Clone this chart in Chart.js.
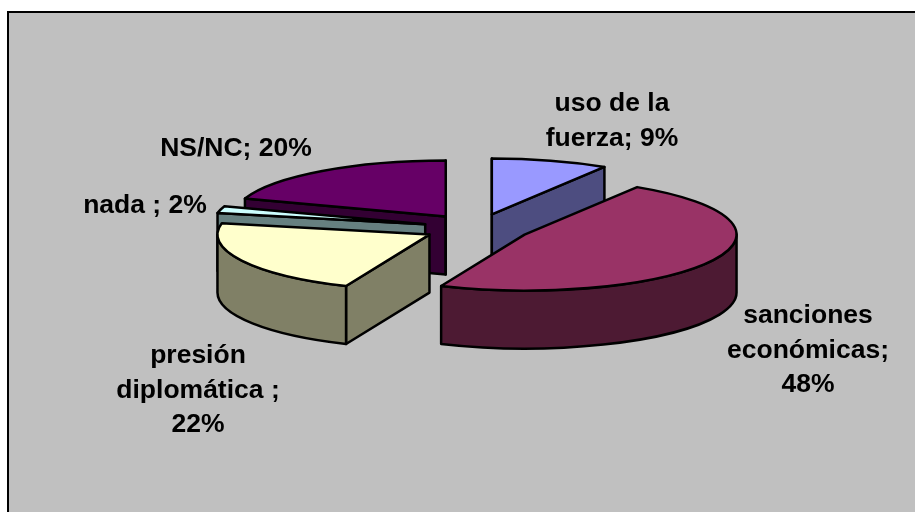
<!DOCTYPE html>
<html>
<head>
<meta charset="utf-8">
<script src="https://cdn.jsdelivr.net/npm/chart.js@4"></script>
<style>
body { margin: 0; background: #fff; }
canvas { display: block; }
</style>
</head>
<body>
<canvas id="pieChart" width="915" height="512"></canvas>
<script>
// Chart values
const categories = ['uso de la\nfuerza', 'sanciones\neconómicas', 'presión\ndiplomática ', 'nada ', 'NS/NC'];
const percents = [9, 48, 22, 2, 20];
const valueBreaks = [' ', '\n', '\n', ' ', ' '];

const topColors = ['#9999ff', '#993366', '#ffffcc', '#ccffff', '#660066'];
const wallColors = ['#4d4d80', '#4d1a33', '#808066', '#668080', '#330033'];

// Where each label is centred (x, baseline of first line)
const labelX = [612, 808, 198, 145, 236];
const labelY = [111, 323, 363, 213, 156];
const lineHeight = 34.6;

// Size of the flattened pie on screen
const pieWidth = 212;
const pieHeight = 56;
const wallDepth = 58;

function drawSlice(ctx, el, color, wall) {
    const R = el.outerRadius;
    const sx = pieWidth / R;
    const sy = pieHeight / R;
    const mid = (el.startAngle + el.endAngle) / 2;
    const ax = el.x + Math.cos(mid) * el.options.offset * sx;
    const ay = el.y + Math.sin(mid) * el.options.offset * sy;
    const px = t => ax + Math.cos(t) * pieWidth;
    const py = t => ay + Math.sin(t) * pieHeight;

    ctx.strokeStyle = '#000';
    ctx.lineWidth = 2.5;
    ctx.lineJoin = 'round';

    // cut faces of the slice, skip the ones turned away from the viewer
    const cutFace = t => {
        ctx.beginPath();
        ctx.moveTo(ax, ay);
        ctx.lineTo(px(t), py(t));
        ctx.lineTo(px(t), py(t) + wallDepth);
        ctx.lineTo(ax, ay + wallDepth);
        ctx.closePath();
        ctx.fillStyle = wall;
        ctx.fill();
        ctx.stroke();
    };
    if (Math.cos(el.startAngle) < 0.01) cutFace(el.startAngle);
    if (Math.cos(el.endAngle) > -0.01) cutFace(el.endAngle);

    // rim, only the part turned to the viewer
    const a0 = Math.max(el.startAngle, 0);
    const a1 = Math.min(el.endAngle, Math.PI);
    if (a1 > a0) {
        ctx.beginPath();
        ctx.ellipse(ax, ay, pieWidth, pieHeight, 0, a0, a1);
        ctx.lineTo(px(a1), py(a1) + wallDepth);
        ctx.ellipse(ax, ay + wallDepth, pieWidth, pieHeight, 0, a1, a0, true);
        ctx.closePath();
        ctx.fillStyle = wall;
        ctx.fill();
        ctx.stroke();
    }

    // top
    ctx.beginPath();
    ctx.moveTo(ax, ay);
    ctx.ellipse(ax, ay, pieWidth, pieHeight, 0, el.startAngle, el.endAngle);
    ctx.closePath();
    ctx.fillStyle = color;
    ctx.fill();
    ctx.stroke();
}

const pie3d = {
    id: 'pie3d',
    beforeDraw(chart) {
        const ctx = chart.ctx;
        ctx.save();
        ctx.fillStyle = '#c0c0c0';
        ctx.fillRect(8, 12, 915, 512);
        ctx.strokeStyle = '#000';
        ctx.lineWidth = 2;
        ctx.strokeRect(8, 12, 915, 512);
        ctx.restore();
    },
    beforeDatasetDraw(chart, args) {
        const ctx = chart.ctx;
        const arcs = chart.getDatasetMeta(args.index).data;
        const depth = el => Math.sin((el.startAngle + el.endAngle) / 2) * el.options.offset;
        const order = arcs.map((el, i) => i).sort((a, b) => depth(arcs[a]) - depth(arcs[b]));
        ctx.save();
        order.forEach(i => drawSlice(ctx, arcs[i], topColors[i], wallColors[i]));
        ctx.restore();
        return false; // the slices are painted above
    },
    afterDraw(chart) {
        const ctx = chart.ctx;
        ctx.save();
        ctx.fillStyle = '#000';
        ctx.font = 'bold 26.5px "Liberation Sans", Arial, sans-serif';
        ctx.textAlign = 'center';
        categories.forEach((cat, i) => {
            const text = cat + ';' + valueBreaks[i] + percents[i] + '%';
            text.split('\n').forEach((line, n) => {
                ctx.fillText(line, labelX[i], labelY[i] + n * lineHeight);
            });
        });
        ctx.restore();
    }
};

new Chart(document.getElementById('pieChart'), {
    type: 'pie',
    data: {
        labels: categories,
        datasets: [{
            data: percents,
            backgroundColor: topColors,
            borderColor: '#000',
            borderWidth: 2,
            offset: 51
        }]
    },
    options: {
        responsive: false,
        animation: false,
        events: [],
        layout: { padding: { left: 39, bottom: 56 } },
        plugins: {
            legend: { display: false },
            tooltip: { enabled: false }
        }
    },
    plugins: [pie3d]
});
</script>
</body>
</html>
